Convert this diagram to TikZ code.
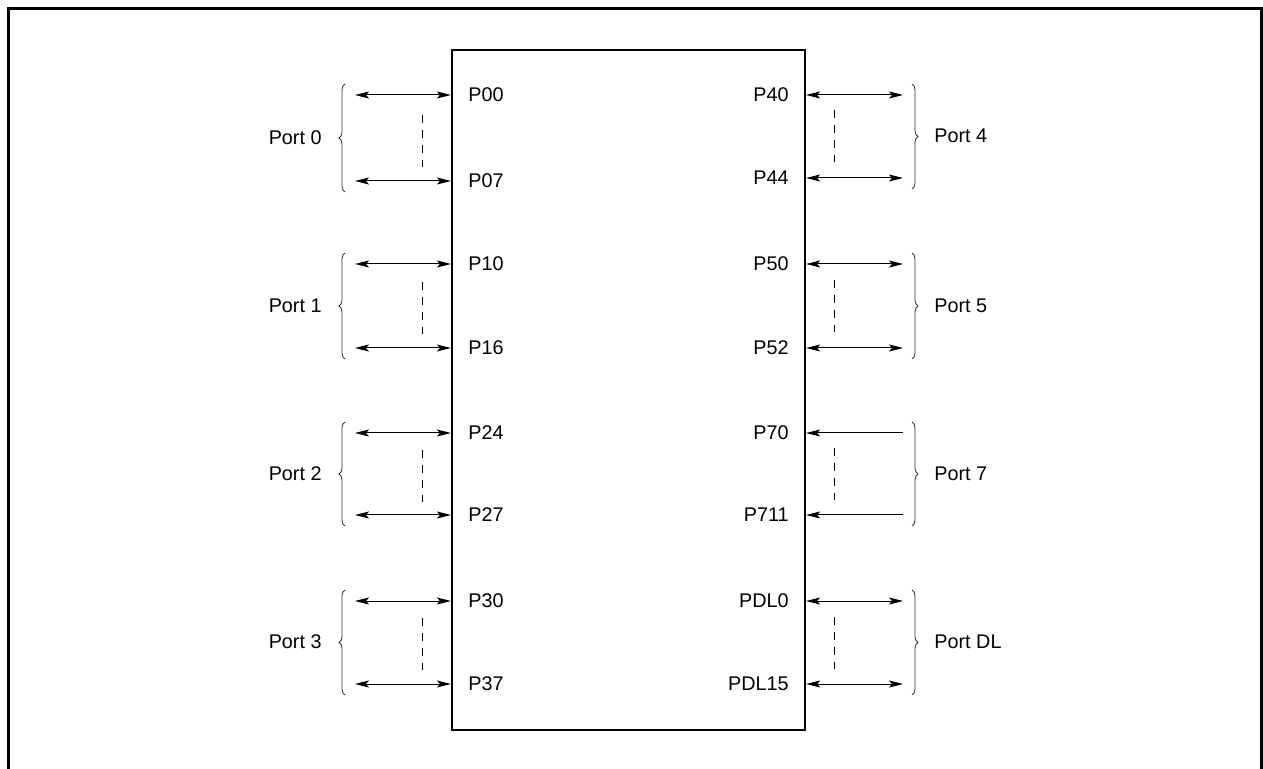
\documentclass[tikz,border=0pt]{standalone}
\usepackage{fontspec}
\setmainfont{Liberation Sans}
\usepackage{tikz}
\usetikzlibrary{arrows.meta,decorations.pathreplacing}

\tikzset{
	pin/.style={line width=0.5pt, {Stealth[length=7pt,width=3.5pt,inset=1.5pt]}-{Stealth[length=7pt,width=3.5pt,inset=1.5pt]}},
	pinin/.style={line width=0.5pt, -{Stealth[length=7pt,width=3.5pt,inset=1.5pt]}},
	gap/.style={line width=0.5pt, dash pattern=on 4pt off 3.5pt},
	grp/.style={line width=0.4pt, color=black!80, decorate, decoration={brace, amplitude=3pt}},
	lbl/.style={inner sep=0pt, font=\fontsize{9.9}{11.8}\selectfont}
}

\begin{document}
\begin{tikzpicture}[x=0.5pt, y=-0.5pt]
			%%%%% START %%%%%
			\useasboundingbox (0, 0) rectangle (1263, 769);
			
			\draw[line width=1.5pt] (8.5, 769) -- (8.5, 8.5) -- (1261.5, 8.5) -- (1261.5, 769);
			
			\node[draw, line width=1.1pt, minimum width=176.5pt, minimum height=340pt, inner sep=0pt] (chip) at (628.5, 390) {};
			
			%%%%% LEFT SIDE %%%%%
			
			\coordinate (a00) at (355, 95);
			\coordinate (a07) at (355, 181);
			\node[lbl, anchor=west] (p00) at (468, 95) {P00};
			\node[lbl, anchor=west] (p07) at (468, 181) {P07};
			\draw[pin] (a00) -- (chip.west |- a00);
			\draw[pin] (a07) -- (chip.west |- a07);
			\draw[gap] (422, 115) -- (422, 167);
			\draw[grp] (345, 192) -- (345, 84);
			\node[lbl, anchor=east] (port0) at (322, 138) {Port 0};
			
			\coordinate (a10) at (355, 264);
			\coordinate (a16) at (355, 348);
			\node[lbl, anchor=west] (p10) at (468, 264) {P10};
			\node[lbl, anchor=west] (p16) at (468, 348) {P16};
			\draw[pin] (a10) -- (chip.west |- a10);
			\draw[pin] (a16) -- (chip.west |- a16);
			\draw[gap] (422, 282) -- (422, 334);
			\draw[grp] (345, 359) -- (345, 253);
			\node[lbl, anchor=east] (port1) at (322, 306) {Port 1};
			
			\coordinate (a24) at (355, 433);
			\coordinate (a27) at (355, 515);
			\node[lbl, anchor=west] (p24) at (468, 433) {P24};
			\node[lbl, anchor=west] (p27) at (468, 515) {P27};
			\draw[pin] (a24) -- (chip.west |- a24);
			\draw[pin] (a27) -- (chip.west |- a27);
			\draw[gap] (422, 450) -- (422, 502);
			\draw[grp] (345, 526) -- (345, 422);
			\node[lbl, anchor=east] (port2) at (322, 474) {Port 2};
			
			\coordinate (a30) at (355, 601);
			\coordinate (a37) at (355, 684);
			\node[lbl, anchor=west] (p30) at (468, 601) {P30};
			\node[lbl, anchor=west] (p37) at (468, 684) {P37};
			\draw[pin] (a30) -- (chip.west |- a30);
			\draw[pin] (a37) -- (chip.west |- a37);
			\draw[gap] (422, 618) -- (422, 670);
			\draw[grp] (345, 695) -- (345, 590);
			\node[lbl, anchor=east] (port3) at (322, 642) {Port 3};
			
			%%%%% RIGHT SIDE %%%%%
			
			\coordinate (a40) at (903, 95);
			\coordinate (a44) at (903, 178);
			\node[lbl, anchor=east] (p40) at (789, 95) {P40};
			\node[lbl, anchor=east] (p44) at (789, 178) {P44};
			\draw[pin] (a40) -- (chip.east |- a40);
			\draw[pin] (a44) -- (chip.east |- a44);
			\draw[gap] (834, 110) -- (834, 162);
			\draw[grp] (912, 84) -- (912, 189);
			\node[lbl, anchor=west] (port4) at (934, 136) {Port 4};
			
			\coordinate (a50) at (903, 264);
			\coordinate (a52) at (903, 348);
			\node[lbl, anchor=east] (p50) at (789, 264) {P50};
			\node[lbl, anchor=east] (p52) at (789, 348) {P52};
			\draw[pin] (a50) -- (chip.east |- a50);
			\draw[pin] (a52) -- (chip.east |- a52);
			\draw[gap] (834, 280) -- (834, 332);
			\draw[grp] (912, 253) -- (912, 359);
			\node[lbl, anchor=west] (port5) at (934, 306) {Port 5};
			
			\coordinate (a70) at (903, 433);
			\coordinate (a711) at (903, 515);
			\node[lbl, anchor=east] (p70) at (789, 433) {P70};
			\node[lbl, anchor=east] (p711) at (789, 515) {P711};
			\draw[pinin] (a70) -- (chip.east |- a70);
			\draw[pinin] (a711) -- (chip.east |- a711);
			\draw[gap] (834, 448) -- (834, 500);
			\draw[grp] (912, 422) -- (912, 526);
			\node[lbl, anchor=west] (port7) at (934, 474) {Port 7};
			
			\coordinate (adl0) at (903, 601);
			\coordinate (adl15) at (903, 684);
			\node[lbl, anchor=east] (pdl0) at (789, 601) {PDL0};
			\node[lbl, anchor=east] (pdl15) at (789, 684) {PDL15};
			\draw[pin] (adl0) -- (chip.east |- adl0);
			\draw[pin] (adl15) -- (chip.east |- adl15);
			\draw[gap] (834, 617) -- (834, 669);
			\draw[grp] (912, 590) -- (912, 695);
			\node[lbl, anchor=west] (portdl) at (934, 642) {Port DL};
			
			%%%%% END %%%%%
\end{tikzpicture}
\end{document}
